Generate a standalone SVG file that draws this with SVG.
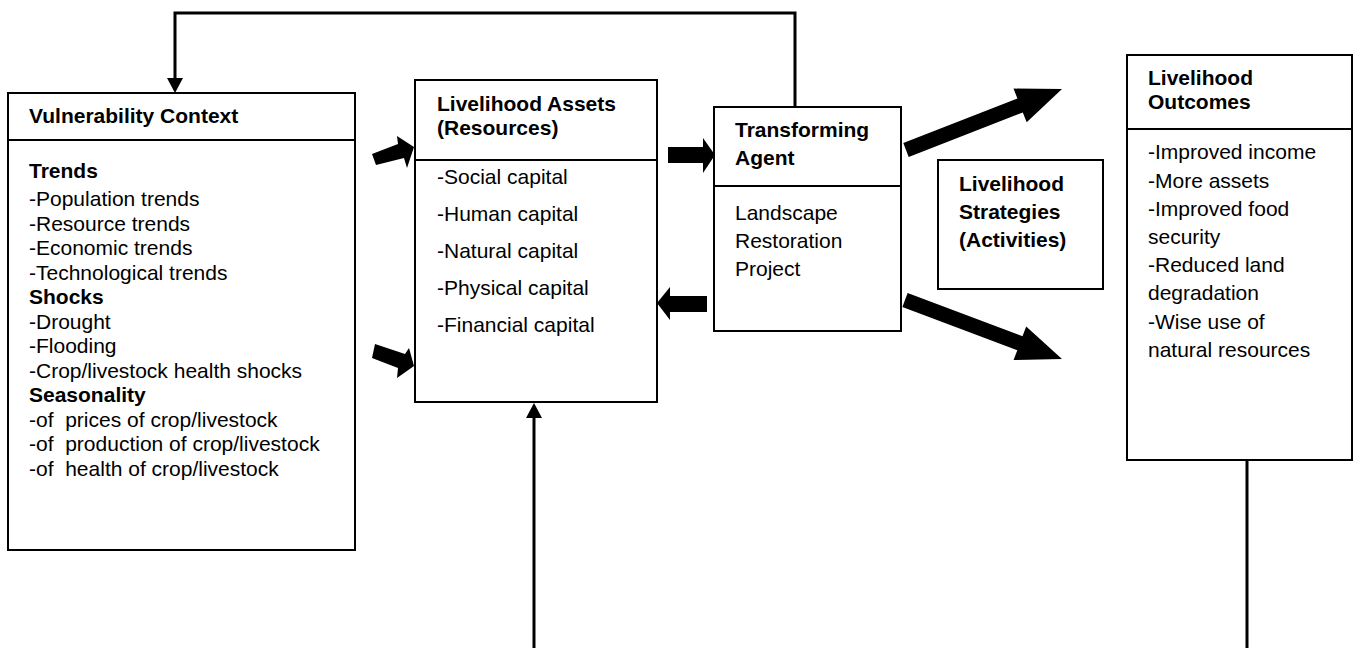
<svg xmlns="http://www.w3.org/2000/svg" width="1359" height="648" viewBox="0 0 1359 648">
<style>
.box{fill:#fff;stroke:#000;stroke-width:2}
.div{stroke:#000;stroke-width:2}
.t{font-family:"Liberation Sans",Arial,sans-serif;font-size:21px;fill:#000}
.b{font-weight:bold}
.con{fill:none;stroke:#000;stroke-width:3}
.blk{fill:#000}
</style>
<defs>
<marker id="ah" markerUnits="userSpaceOnUse" markerWidth="16" markerHeight="16" refX="0" refY="8" orient="auto">
<path d="M0,0 L15,8 L0,16 z" fill="#000"/>
</marker>
</defs>
<rect width="1359" height="648" fill="#fff"/>

<g id="connectors">
<path class="con" d="M795,107 V13 H175 V78" marker-end="url(#ah)"/>
<path class="con" d="M534,648 V418" marker-end="url(#ah)"/>
<path class="con" d="M1247,460 V648"/>
<polygon class="blk" points="372,154 398,144 397,136 414,147 407,168 404,158 376,165"/>
<polygon class="blk" points="375,344 405,354 409,348 414,366 397,378 398,368 372,358"/>
<polygon class="blk" points="668,147 703,147 703,138 715,155 703,173 703,163 668,163"/>
<polygon class="blk" points="707,296 670,296 670,287 657,303 670,320 670,312 707,312"/>
<polygon class="blk" points="903.3,143 1017.4,98.4 1013.5,88.6 1062,89 1026.7,122.2 1022.8,112.4 908.7,157"/>
<polygon class="blk" points="907.6,293 1022.5,336.2 1026.2,326.4 1062,359 1013.6,360 1017.3,350.2 902.4,307"/>
</g>

<g id="vulnerability-context">
<rect class="box" x="8" y="93" width="347" height="457"/>
<line class="div" x1="8" y1="140" x2="355" y2="140"/>
<text class="t b" x="29" y="123">Vulnerability Context</text>
<text class="t" x="29">
<tspan class="b" x="29" y="178">Trends</tspan>
<tspan x="29" y="206">-Population trends</tspan>
<tspan x="29" y="230.5">-Resource trends</tspan>
<tspan x="29" y="255">-Economic trends</tspan>
<tspan x="29" y="279.5">-Technological trends</tspan>
<tspan class="b" x="29" y="304">Shocks</tspan>
<tspan x="29" y="328.5">-Drought</tspan>
<tspan x="29" y="353">-Flooding</tspan>
<tspan x="29" y="377.5">-Crop/livestock health shocks</tspan>
<tspan class="b" x="29" y="402">Seasonality</tspan>
<tspan x="29" y="426.5" xml:space="preserve">-of  prices of crop/livestock</tspan>
<tspan x="29" y="451" xml:space="preserve">-of  production of crop/livestock</tspan>
<tspan x="29" y="475.5" xml:space="preserve">-of  health of crop/livestock</tspan>
</text>
</g>

<g id="livelihood-assets">
<rect class="box" x="415" y="80" width="242" height="322"/>
<line class="div" x1="415" y1="160" x2="657" y2="160"/>
<text class="t b"><tspan x="437" y="111">Livelihood Assets</tspan><tspan x="437" y="135">(Resources)</tspan></text>
<text class="t">
<tspan x="437" y="184">-Social capital</tspan>
<tspan x="437" y="221">-Human capital</tspan>
<tspan x="437" y="258">-Natural capital</tspan>
<tspan x="437" y="295">-Physical capital</tspan>
<tspan x="437" y="332">-Financial capital</tspan>
</text>
</g>

<g id="transforming-agent">
<rect class="box" x="714" y="107" width="187" height="224"/>
<line class="div" x1="714" y1="186" x2="901" y2="186"/>
<text class="t b"><tspan x="735" y="137">Transforming</tspan><tspan x="735" y="165">Agent</tspan></text>
<text class="t"><tspan x="735" y="220">Landscape</tspan><tspan x="735" y="248">Restoration</tspan><tspan x="735" y="276">Project</tspan></text>
</g>

<g id="livelihood-strategies">
<rect class="box" x="938" y="160" width="165" height="129"/>
<text class="t b"><tspan x="959" y="191">Livelihood</tspan><tspan x="959" y="219">Strategies</tspan><tspan x="959" y="247">(Activities)</tspan></text>
</g>

<g id="livelihood-outcomes">
<rect class="box" x="1127" y="55" width="225" height="405"/>
<line class="div" x1="1127" y1="129" x2="1352" y2="129"/>
<text class="t b"><tspan x="1148" y="85">Livelihood</tspan><tspan x="1148" y="109">Outcomes</tspan></text>
<text class="t">
<tspan x="1148" y="159">-Improved income</tspan>
<tspan x="1148" y="187.5">-More assets</tspan>
<tspan x="1148" y="216">-Improved food</tspan>
<tspan x="1148" y="243.5">security</tspan>
<tspan x="1148" y="272">-Reduced land</tspan>
<tspan x="1148" y="300">degradation</tspan>
<tspan x="1148" y="328.5">-Wise use of</tspan>
<tspan x="1148" y="356.5">natural resources</tspan>
</text>
</g>
</svg>
